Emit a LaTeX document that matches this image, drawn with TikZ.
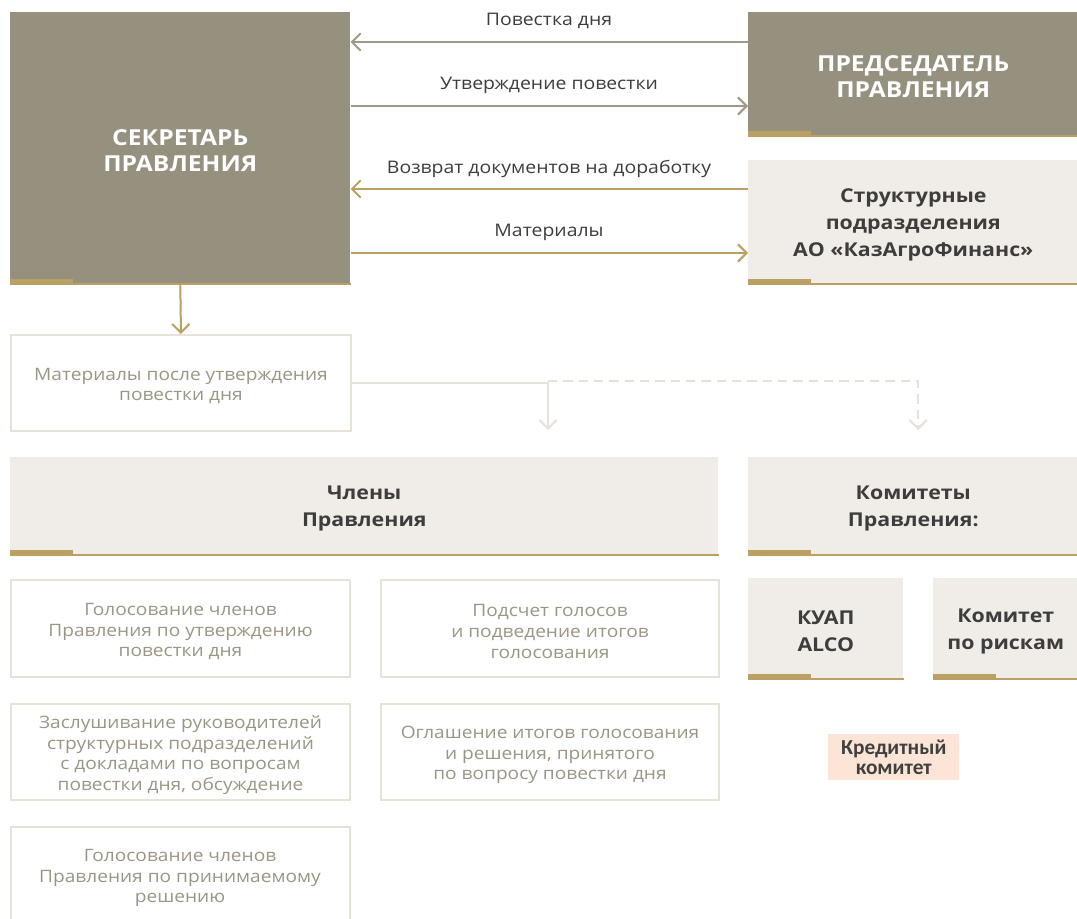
\documentclass[tikz,border=0pt]{standalone}
\usepackage{fontspec}
\setmainfont{Open Sans}[FakeStretch=1.12]
\newfontfamily\calib{Carlito}
\usetikzlibrary{arrows.meta}
\definecolor{darkbox}{HTML}{96917F}
\definecolor{gold}{HTML}{BAA062}
\definecolor{greyline}{HTML}{9E9A8A}
\definecolor{lightfill}{HTML}{F0EDE8}
\definecolor{outline}{HTML}{E6E2DA}
\definecolor{outtext}{HTML}{9A9585}
\definecolor{darktext}{HTML}{3D3D3D}
\definecolor{peach}{HTML}{FCE4D6}
\definecolor{kredtext}{HTML}{404040}
\begin{document}
\begin{tikzpicture}[x=0.75pt,y=-0.75pt,
  sz/.style 2 args={minimum width=#1*0.75pt, minimum height=#2*0.75pt, anchor=north west, inner sep=0pt, align=center},
  bigfont/.style={text=white, font=\fontsize{16.5}{19.5}\selectfont\bfseries},
  lightfont/.style={text=darktext, font=\fontsize{14.3}{20}\selectfont\bfseries},
  outfont/.style={text=outtext, font=\fontsize{12.8}{15.5}\selectfont},
  txt/.style 2 args={label={[#1, inner sep=0pt, align=center, yshift=-2.25pt]center:{#2}}},
  bigbox/.style={fill=darkbox, txt={bigfont}{#1}},
  lightbox/.style={fill=lightfill, txt={lightfont}{#1}},
  outbox/.style={draw=outline, line width=1.5pt, txt={outfont}{#1}},
  lbl/.style={text=darktext, font=\fontsize{13}{15}\selectfont, inner sep=0pt},
  tipb/.style={-{Straight Barb[length=6.5pt,width=13pt,line width=1.5pt]}},
  greyarr/.style={draw=greyline, line width=1.5pt, tipb},
  goldarr/.style={draw=gold, line width=1.5pt, tipb},
  lightarr/.style={draw=outline, line width=1.5pt, tipb},
]
\useasboundingbox (0,0) rectangle (1077,919);
\fill[white] (0,0) rectangle (1077,919);

% top boxes
\node[bigbox={СЕКРЕТАРЬ\\ПРАВЛЕНИЯ}, sz={340}{271}] (sec) at (10,12) {};
\node[bigbox={ПРЕДСЕДАТЕЛЬ\\ПРАВЛЕНИЯ}, sz={330}{123}] (chair) at (748,12) {};
\node[lightbox={Структурные\\подразделения\\АО «КазАгроФинанс»}, sz={330}{123}] (struct) at (748,160) {};

% lower header boxes
\node[lightbox={Члены\\Правления}, sz={708}{97}] (mem) at (10,457) {};
\node[lightbox={Комитеты\\Правления:}, sz={330}{97}] (com) at (748,457) {};
\node[lightbox={КУАП\\ALCO}, sz={155}{100}] (kuap) at (748,578) {};
\node[lightbox={Комитет\\по рискам}, sz={145}{100}] (risk) at (933,578) {};

% gold underlines
\foreach \n in {sec,chair,struct,mem,com,kuap,risk}{
  \draw[gold, line width=1.5pt] (\n.south west) -- (\n.south east);
  \fill[gold] (\n.south west) rectangle ++(63,-4.5);
}

% outline boxes
\node[outbox={Материалы после утверждения\\повестки дня}, sz={340}{96}] (mat) at (10,334) {};
\node[outbox={Голосование членов\\Правления по утверждению\\повестки дня}, sz={339}{97}] (p1) at (10,579) {};
\node[outbox={Подсчет голосов\\и подведение итогов\\голосования}, sz={338}{97}] (p2) at (380,579) {};
\node[outbox={Заслушивание руководителей\\структурных подразделений\\с докладами по вопросам\\повестки дня{,} обсуждение}, sz={339}{96}] (p3) at (10,703) {};
\node[outbox={Оглашение итогов голосования\\и решения{,} принятого\\по вопросу повестки дня}, sz={338}{96}] (p4) at (380,703) {};
\node[draw=outline, line width=1.5pt, sz={339}{120}] (p5) at (10,826) {};
\node[outfont, align=center, inner sep=0pt] (p5t) at (180,878) {Голосование членов\\Правления по принимаемому\\решению};

% credit committee
\node[fill=peach, text=kredtext, font=\calib\fontsize{16}{15}\selectfont\bfseries, sz={131}{46}] (kred) at (828,734) {Кредитный\\комитет};

% arrows between secretary and chairman / departments
\draw[greyarr] (chair.west |- 0,42) -- (sec.east |- 0,42);
\draw[greyarr] (sec.east |- 0,106) -- (chair.west |- 0,106);
\draw[goldarr] (struct.west |- 0,189) -- (sec.east |- 0,189);
\draw[goldarr] (sec.east |- 0,253) -- (struct.west |- 0,253);

\node[lbl] (t1) at (549,20.5) {Повестка дня};
\node[lbl] (t2) at (549,85.5) {Утверждение повестки};
\node[lbl] (t3) at (549,168.5) {Возврат документов на доработку};
\node[lbl] (t4) at (549,232.5) {Материалы};

% down arrow secretary -> materials
\draw[goldarr] (sec.south) -- (mat.north);

% materials -> members / committees
\coordinate (split) at (548,381);
\coordinate (e1) at (548,430);
\coordinate (e2) at (918,430);
\draw[lightarr] (mat.east) -| (e1);
\draw[lightarr, dash pattern=on 7pt off 4.5pt] (split) -| (e2);
\end{tikzpicture}
\end{document}
